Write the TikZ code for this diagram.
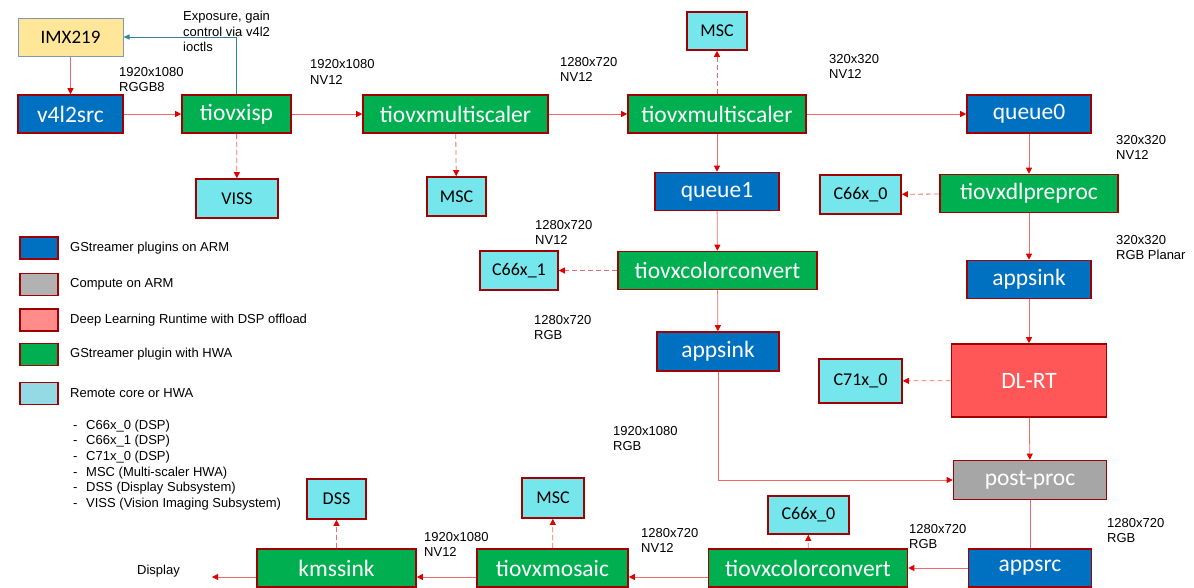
\documentclass[tikz,border=0pt]{standalone}
\usepackage{fontspec}
\setmainfont{Liberation Sans}
\newfontfamily\boxfont{Carlito}
\usetikzlibrary{arrows.meta}
\definecolor{armblue}{HTML}{0070C0}
\definecolor{hwagreen}{HTML}{00B050}
\definecolor{corecyan}{HTML}{75E6EC}
\definecolor{legcyan}{HTML}{93DAE5}
\definecolor{dlred}{HTML}{FF5757}
\definecolor{legpink}{HTML}{FF8B8B}
\definecolor{procgray}{HTML}{A6A6A6}
\definecolor{leggray}{HTML}{B2B2B2}
\definecolor{sensor}{HTML}{FFE699}
\definecolor{sensorline}{HTML}{8497B0}
\definecolor{boxred}{HTML}{A00000}
\definecolor{flowred}{HTML}{F06A6A}
\definecolor{tipred}{HTML}{E00000}
\definecolor{ctlteal}{HTML}{31859C}

\begin{document}
\begin{tikzpicture}[x=1pt,y=-1pt,
  box/.style={draw=boxred,line width=1.6pt,inner sep=0pt,minimum height=38,text=white,
    font=\boxfont\fontsize{23.5}{26}\selectfont},
  arm/.style={box,fill=armblue},
  hwa/.style={box,fill=hwagreen},
  core/.style={box,fill=corecyan,text=black,font=\boxfont\fontsize{18}{20}\selectfont},
  note/.style={inner sep=0pt,align=left,anchor=north west,font=\fontsize{13}{15.6}\selectfont},
  flow/.style={draw=flowred,line width=.8pt,-{Triangle[length=6pt,width=6pt,color=tipred]}},
  offload/.style={flow,dash pattern=on 5pt off 3pt},
  link/.style={draw=flowred,line width=.8pt},
  ctl/.style={draw=ctlteal,line width=.8pt,-{Triangle[length=6pt,width=5pt]}}]
  \useasboundingbox (0,0) rectangle (1194,587);

  % 摄像头与 ISP
  \node[box,draw=sensorline,line width=1pt,fill=sensor,text=black,minimum width=105,
    font=\boxfont\fontsize{19}{21}\selectfont] (imx) at (70.5,37) {IMX219};
  \node[arm,minimum width=105] (v4l2) at (70.5,114) {v4l2src};
  \node[hwa,minimum width=109] (isp) at (236.5,114) {tiovxisp};
  \node[core,minimum width=82,minimum height=39] (viss) at (237,198.5) {VISS};
  \node[hwa,minimum width=185] (ms1) at (455.5,114) {tiovxmultiscaler};
  \node[core,minimum width=59,minimum height=39] (msca) at (456.5,196.5) {MSC};
  \node[hwa,minimum width=178] (ms2) at (717,114) {tiovxmultiscaler};
  \node[core,minimum width=60] (mscb) at (717,31) {MSC};

  % 右侧: 推理分支
  \node[arm,minimum width=124] (q0) at (1029,114) {queue0};
  \node[hwa,minimum width=178] (pre) at (1029,193.5) {tiovxdlpreproc};
  \node[core,minimum width=81,minimum height=39] (c660) at (860.5,194.5) {C66x\_0};
  \node[arm,minimum width=124] (sinkr) at (1029,279.5) {appsink};
  \node[box,fill=dlred,minimum width=155,minimum height=73] (dlrt) at (1029,380.5) {DL-RT};
  \node[core,minimum width=83,minimum height=44] (c71) at (860.5,381) {C71x\_0};
  \node[box,fill=procgray,minimum width=153,minimum height=39] (post) at (1030,480) {post-proc};

  % 中间: 显示分支
  \node[arm,minimum width=124] (q1) at (717,191.5) {queue1};
  \node[hwa,minimum width=199] (cc1) at (717.5,270.5) {tiovxcolorconvert};
  \node[core,minimum width=78,minimum height=39] (c661) at (519,270.5) {C66x\_1};
  \node[arm,minimum width=122,minimum height=39] (sinkm) at (718,351.5) {appsink};

  % 底部: 输出
  \node[arm,minimum width=123] (src) at (1030,568) {appsrc};
  \node[hwa,minimum width=199] (cc2) at (808,568) {tiovxcolorconvert};
  \node[core,minimum width=81] (c660b) at (808.5,515) {C66x\_0};
  \node[hwa,minimum width=151] (mosaic) at (552.5,568) {tiovxmosaic};
  \node[core,minimum width=62,minimum height=40] (mscc) at (553,498) {MSC};
  \node[hwa,minimum width=159] (kms) at (336.5,568) {kmssink};
  \node[core,minimum width=59,minimum height=40] (dss) at (336.5,499) {DSS};
  \node[note,anchor=west] (disp) at (137,571) {Display};
  \coordinate (dispend) at (212,577);

  % 连线
  \draw[flow] (imx) -- (v4l2);
  \draw[flow] (v4l2) -- (isp);
  \draw[ctl] (isp.north) |- (imx.east);
  \draw[offload] (isp) -- (viss);
  \draw[flow] (isp) -- (ms1);
  \draw[offload] (ms1) -- (msca);
  \draw[flow] (ms1) -- (ms2);
  \draw[offload] (ms2) -- (mscb);
  \draw[flow] (ms2) -- (q0);
  \draw[flow] (ms2) -- (q1);
  \draw[flow] (q0) -- (pre);
  \draw[offload] (pre) -- (c660);
  \draw[flow] (pre) -- (sinkr);
  \draw[flow] (sinkr) -- (dlrt);
  \draw[offload] (dlrt) -- (c71);
  \draw[flow] (dlrt) -- (post);
  \draw[flow] (q1) -- (cc1);
  \draw[offload] (cc1) -- (c661);
  \draw[flow] (cc1) -- (sinkm);
  \draw[flow] (sinkm) |- (post);
  \draw[link] (post) -- (src);
  \draw[flow] (src) -- (cc2);
  \draw[offload] (cc2) -- (c660b);
  \draw[flow] ([yshift=-9pt]cc2.west) -- ([yshift=-9pt]mosaic.east);
  \draw[offload] (mosaic) -- (mscc);
  \draw[flow] ([yshift=-9pt]mosaic.west) -- ([yshift=-9pt]kms.east);
  \draw[offload] (kms) -- (dss);
  \draw[flow] ([yshift=-9pt]kms.west) -- (dispend);

  % 格式标注
  \node[note] (n1) at (183,11) {Exposure, gain\\control via v4l2\\ioctls};
  \node[note] (n2) at (119,67) {1920x1080\\RGGB8};
  \node[note] (n3) at (310,59.5) {1920x1080\\NV12};
  \node[note] (n4) at (560,57) {1280x720\\NV12};
  \node[note] (n5) at (829,54) {320x320\\NV12};
  \node[note] (n6) at (1116,135) {320x320\\NV12};
  \node[note] (n7) at (535,220) {1280x720\\NV12};
  \node[note] (n8) at (534,315) {1280x720\\RGB};
  \node[note] (n9) at (1116,235) {320x320\\RGB Planar};
  \node[note] (n10) at (613,426) {1920x1080\\RGB};
  \node[note] (n11) at (424,532) {1920x1080\\NV12};
  \node[note] (n12) at (641,528) {1280x720\\NV12};
  \node[note] (n13) at (909,524) {1280x720\\RGB};
  \node[note] (n14) at (1107,518) {1280x720\\RGB};

  % 图例
  \foreach \c/\y/\txt [count=\i] in {armblue/248/GStreamer plugins on ARM,
      leggray/284.5/Compute on ARM, legpink/320/Deep Learning Runtime with DSP offload,
      hwagreen/354.5/GStreamer plugin with HWA, legcyan/393.5/Remote core or HWA} {
    \node[box,fill=\c,minimum width=38,minimum height=22] (leg\i) at (39,\y) {};
    \node[note,anchor=west] (legt\i) at (70,\y) {\txt};
  }
  \foreach \txt [count=\i] in {C66x\_0 (DSP),C66x\_1 (DSP),C71x\_0 (DSP),
      MSC (Multi-scaler HWA),DSS (Display Subsystem),VISS (Vision Imaging Subsystem)} {
    \node[note,anchor=west] (item\i) at (73,{410.4+15.6*\i}) {\makebox[13pt][l]{-}\txt};
  }
\end{tikzpicture}
\end{document}
